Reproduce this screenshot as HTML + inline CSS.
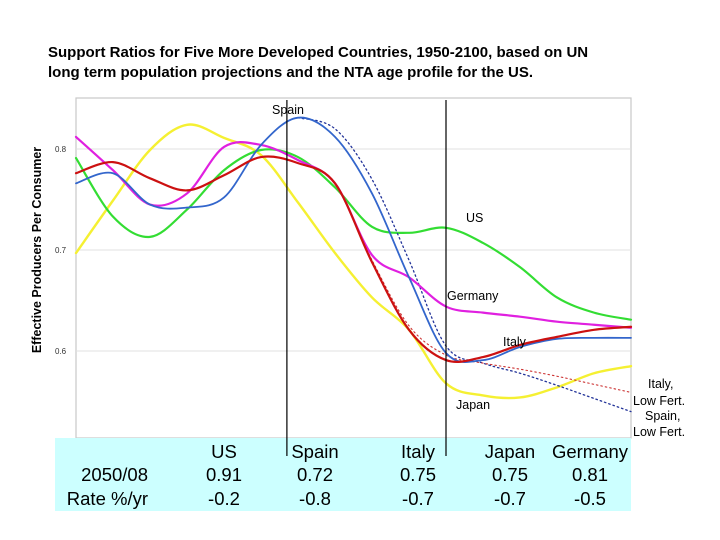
<!DOCTYPE html>
<html><head><meta charset="utf-8"><style>
body{margin:0;background:#fff;width:720px;height:540px;overflow:hidden;font-family:"Liberation Sans",sans-serif}
svg{position:absolute;left:0;top:0}
</style></head><body>
<svg width="720" height="540" xmlns="http://www.w3.org/2000/svg">
<g id="root"></g>
</svg>
<script>
const years=[1950,1960,1970,1980,1990,2000,2010,2020,2030,2040,2050,2060,2070,2080,2090,2100];
const japan=[0.697,0.749,0.799,0.824,0.811,0.794,0.747,0.697,0.653,0.621,0.568,0.556,0.554,0.564,0.578,0.585];
const us=[0.791,0.733,0.713,0.740,0.779,0.799,0.792,0.762,0.723,0.717,0.722,0.707,0.683,0.653,0.638,0.631];
const italy=[0.776,0.787,0.771,0.759,0.774,0.792,0.786,0.766,0.688,0.621,0.591,0.594,0.606,0.614,0.621,0.624];
const germany=[0.812,0.779,0.745,0.756,0.802,0.804,0.789,0.766,0.695,0.673,0.644,0.638,0.634,0.629,0.626,0.623];
const spain=[0.766,0.776,0.745,0.742,0.752,0.804,0.831,0.812,0.756,0.673,0.598,0.591,0.604,0.612,0.613,0.613];
const lowYears=[2010,2020,2030,2040,2050,2060,2070,2080,2090,2100];
const spainLow=[0.831,0.820,0.770,0.690,0.605,0.588,0.578,0.566,0.553,0.540];
const italyLow=[0.786,0.766,0.690,0.625,0.596,0.588,0.582,0.575,0.567,0.559];
const yTicks=[0.8,0.7,0.6];
const markerYears=[2007,2050];

const X0=76,X1=631,Y0=98,Y1=438;
const xs=y=>X0+(y-1950)/150*(X1-X0);
const ys=v=>149+(0.8-v)*1010;
const NS="http://www.w3.org/2000/svg";
const root=document.getElementById('root');
function mk(tag,attrs,parent){const e=document.createElementNS(NS,tag);for(const k in attrs)e.setAttribute(k,attrs[k]);(parent||root).appendChild(e);return e;}
function txt(s,x,y,size,opts){const e=mk('text',Object.assign({x:x,y:y,'font-size':size,fill:'#000','font-family':'Liberation Sans, sans-serif'},opts||{}));e.textContent=s;return e;}
function smooth(pts){let d='M'+pts[0][0]+','+pts[0][1];for(let i=0;i<pts.length-1;i++){const p0=pts[i-1]||pts[i],p1=pts[i],p2=pts[i+1],p3=pts[i+2]||p2;
const c1=[p1[0]+(p2[0]-p0[0])/6,p1[1]+(p2[1]-p0[1])/6],c2=[p2[0]-(p3[0]-p1[0])/6,p2[1]-(p3[1]-p1[1])/6];
d+=' C'+c1[0]+','+c1[1]+' '+c2[0]+','+c2[1]+' '+p2[0]+','+p2[1];}return d;}

// title
let t=txt('Support Ratios for Five More Developed Countries, 1950-2100, based on UN',48,57,15,{'font-weight':'bold'});


t=txt('long term population projections and the NTA age profile for the US.',48,77,15,{'font-weight':'bold'});



// plot frame
let f=mk('rect',{x:X0,y:Y0,width:X1-X0,height:Y1-Y0,fill:'#fff',stroke:'#c8c8c8','stroke-width':1.2});


yTicks.forEach(v=>{
 const g=mk('line',{x1:X0,x2:X1,y1:ys(v),y2:ys(v),stroke:'#e0e0e0'});
 
 
 const l=txt(v.toFixed(1),55,ys(v)+3,8,{fill:'#333'});
 
 
});
t=txt('Effective Producers Per Consumer',0,0,12.5,{'font-weight':'bold','text-anchor':'middle',transform:'translate(41,250) rotate(-90)'});



function series(vals,yrs,color,w,dash,name){
 const p=mk('path',{d:smooth(yrs.map((y,i)=>[xs(y),ys(vals[i])])),fill:'none',stroke:color,'stroke-width':w,'stroke-dasharray':dash||'none','stroke-linecap':'round'});
 
 
}
series(japan,years,'#f5f032',2.4,null,'japan-line');
series(us,years,'#33dd33',2.2,null,'us-line');
series(spainLow,lowYears,'#223399',1.3,'1.5,3','spain-low-fert-line');
series(italyLow,lowYears,'#cc3333',1.1,'1.5,3','italy-low-fert-line');
series(germany,years,'#e020e0',2.2,null,'germany-line');
series(spain,years,'#3366cc',1.8,null,'spain-line');
series(italy,years,'#cc1111',2.2,null,'italy-line');

// table background
let tb=mk('rect',{x:55,y:438,width:576,height:73,fill:'#ccffff'});



markerYears.forEach(y=>{
 const l=mk('line',{x1:xs(y),x2:xs(y),y1:100,y2:456,stroke:'#000','stroke-width':1.2});
 
 
});

[['Spain',288,114],['US',466,222],['Germany',447,300],['Italy',503,346],['Japan',456,409],['Italy,',648,388],['Low Fert.',633,405],['Spain,',645,420],['Low Fert.',633,436]].forEach(a=>{
 const l=txt(a[0],a[1],a[2],12.5,a[0]==='Spain'&&a[1]===288?{'text-anchor':'middle'}:{});
 
 
});

const cols=['US','Spain','Italy','Japan','Germany'];
const colX=[224,315,418,510,590];
const r2050=['0.91','0.72','0.75','0.75','0.81'];
const rate=['-0.2','-0.8','-0.7','-0.7','-0.5'];
cols.forEach((c,i)=>{
 let h=txt(c,colX[i],458,18.5,{'text-anchor':'middle'});
 
 
 h=txt(r2050[i],colX[i],481,18.5,{'text-anchor':'middle'});
 
 
 h=txt(rate[i],colX[i],505,18.5,{'text-anchor':'middle'});
 
 
});
t=txt('2050/08',148,481,18.5,{'text-anchor':'end'});


t=txt('Rate %/yr',148,505,18.5,{'text-anchor':'end'});


</script>
</body></html>
